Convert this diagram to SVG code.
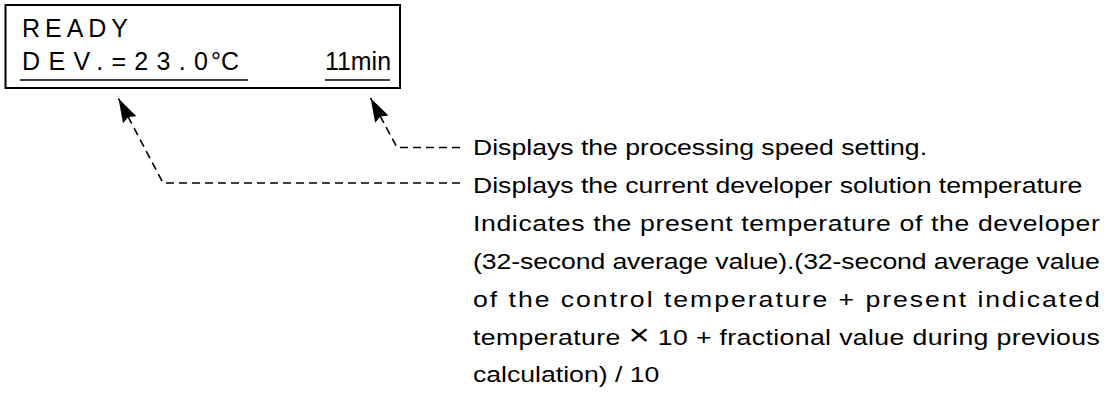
<svg xmlns="http://www.w3.org/2000/svg" width="1114" height="399" viewBox="0 0 1114 399">
  <defs>
    <style>
      .t { font-family: "Liberation Sans", Arial, sans-serif; fill: #000; }
      .lcd { font-size: 25px; }
      .desc { font-size: 22px; }
      .dash { fill: none; stroke: #000; stroke-width: 1.6; stroke-dasharray: 8 5; }
      .ul { stroke: #000; stroke-width: 1.6; }
    </style>
    <marker id="ah" markerUnits="userSpaceOnUse" markerWidth="28" markerHeight="18" viewBox="-26 -9 28 18" refX="0" refY="0" orient="auto">
      <path d="M0,0 L-24,-7.5 L-21,0 L-24,7.5 Z" fill="#000"/>
    </marker>
  </defs>
  <rect x="0" y="0" width="1114" height="399" fill="#fff"/>

  <g id="display">
    <rect x="5.5" y="5" width="394.5" height="83" fill="none" stroke="#000" stroke-width="2"/>
    <text class="t lcd" x="22" y="37" textLength="106" lengthAdjust="spacing">READY</text>
    <text class="t lcd" x="22" y="70" font-size="24" textLength="186" lengthAdjust="spacing">DEV.=23.0</text>
    <text class="t lcd" x="211" y="70" font-size="24">°C</text>
    <text class="t lcd" x="325" y="70" textLength="66" lengthAdjust="spacingAndGlyphs">11min</text>
    <line class="ul" x1="20" y1="80" x2="248" y2="80"/>
    <line class="ul" x1="325" y1="80" x2="390" y2="80"/>
  </g>

  <g id="connectors">
    <path class="dash" d="M460 147.5 H397 L370.5 98" marker-end="url(#ah)"/>
    <path class="dash" d="M460 183 H163 L118.5 98.5" marker-end="url(#ah)"/>
  </g>

  <g id="speed-label" transform="translate(473,0) scale(1.21,1)">
    <text class="t desc" x="0" y="155">Displays the processing speed setting.</text>
  </g>

  <g id="temp-label" transform="translate(473,0) scale(1.21,1)">
    <text class="t desc" x="0" y="193">Displays the current developer solution temperature</text>
    <text class="t desc" x="0" y="231" textLength="518" lengthAdjust="spacing">Indicates the present temperature of the developer</text>
    <text class="t desc" x="0" y="269" textLength="518" lengthAdjust="spacing">(32-second average value).(32-second average value</text>
    <text class="t desc" x="0" y="307" textLength="518" lengthAdjust="spacing">of the control temperature + present indicated</text>
    <text class="t desc" x="0" y="345" textLength="518" lengthAdjust="spacing">temperature <tspan font-size="30">×</tspan> 10 + fractional value during previous</text>
    <text class="t desc" x="0" y="382">calculation) / 10</text>
  </g>
</svg>
